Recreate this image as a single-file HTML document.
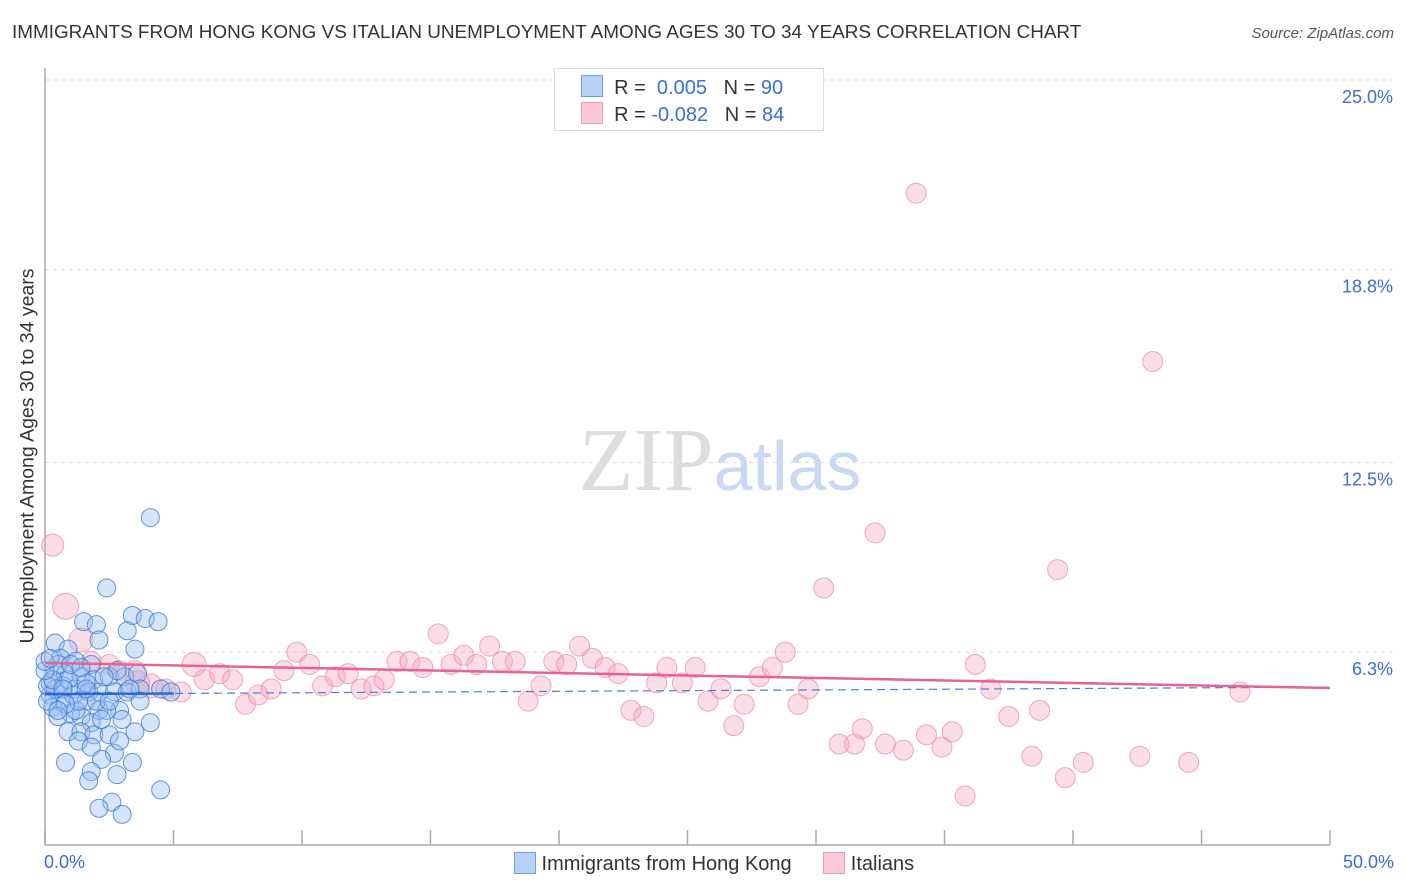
<!DOCTYPE html>
<html><head><meta charset="utf-8"><style>
body{margin:0;background:#fff;font-family:"Liberation Sans",sans-serif;}
#wrap{position:relative;width:1406px;height:892px;overflow:hidden}
.t{position:absolute;white-space:nowrap}
</style></head><body><div id="wrap">
<div class="t" style="left:12px;top:22px;font-size:18.9px;color:#333">IMMIGRANTS FROM HONG KONG VS ITALIAN UNEMPLOYMENT AMONG AGES 30 TO 34 YEARS CORRELATION CHART</div>
<div class="t" style="right:12px;top:25px;font-size:15px;color:#555;font-style:italic">Source: ZipAtlas.com</div>
<svg id="svg" width="1406" height="892" style="position:absolute;left:0;top:0"></svg>
</div>
<script>
const yTicks=[25.0,18.8,12.5,6.3];
const yTickLabels=["25.0%","18.8%","12.5%","6.3%"];
const xTicks=[0,5,10,15,20,25,30,35,40,45,50];
const blueX=[4.1,2.4,3.4,3.9,4.4,3.2,1.5,2.0,0.4,2.1,0.9,3.5,0.6,1.2,1.8,0.4,0.8,1.4,1.9,2.5,3.1,3.6,0.2,0.7,1.2,1.7,2.1,2.7,3.2,0.2,0.6,0.3,1.6,2.1,2.9,1.0,1.4,1.2,2.4,4.1,1.8,3.0,0.9,1.4,1.9,2.5,3.5,1.3,1.8,2.7,0.8,2.2,3.4,1.8,2.8,1.7,4.5,2.6,2.1,3.0,0.4,0.1,0.5,0.9,1.1,1.6,2.8,2.3,3.7,0.1,0.3,0.7,0.0,1.3,2.0,2.5,3.3,0.8,0.5,1.6,2.9,3.7,2.2,4.5,4.9,0.0,0.2,1.0,1.4,0.5];
const blueY=[10.7,8.4,7.5,7.4,7.3,7.0,7.3,7.2,6.6,6.7,6.4,6.4,6.1,6.0,5.9,5.7,5.6,5.5,5.4,5.5,5.5,5.6,5.3,5.2,5.1,5.0,5.0,5.0,5.0,4.9,4.7,4.5,4.7,4.4,4.4,4.3,4.2,4.4,4.4,4.0,4.0,4.1,3.7,3.7,3.6,3.6,3.7,3.4,3.2,3.0,2.7,2.8,2.7,2.4,2.3,2.1,1.8,1.4,1.2,1.0,5.1,5.2,5.9,5.4,4.9,5.3,5.7,5.5,5.1,4.7,5.4,5.1,5.7,4.7,4.7,4.7,5.1,4.6,4.2,5.1,3.4,4.7,4.1,5.1,5.0,6.0,6.1,5.9,5.8,4.4];
const pinkX=[0.3,0.8,1.4,1.8,2.5,2.9,3.5,4.1,4.7,5.3,5.8,6.2,6.8,7.3,7.8,8.3,8.8,9.3,9.8,10.3,10.8,11.3,11.8,12.3,12.8,13.2,13.7,14.2,14.7,15.3,15.8,16.3,16.8,17.3,17.8,18.3,18.8,19.3,19.8,20.3,20.8,21.3,21.8,22.3,22.8,23.3,23.8,24.2,24.8,25.3,25.8,26.3,26.8,27.2,27.8,28.3,28.8,29.3,29.7,30.3,30.9,31.5,31.8,32.3,32.7,33.4,33.9,34.3,34.9,35.3,35.8,36.2,36.8,37.5,38.4,38.7,39.4,39.7,40.4,42.6,43.1,44.5,46.5,3.6];
const pinkY=[9.8,7.8,6.7,6.0,5.9,5.7,5.7,5.2,5.1,5.0,5.9,5.4,5.6,5.4,4.6,4.9,5.1,5.7,6.3,5.9,5.2,5.5,5.6,5.1,5.2,5.4,6.0,6.0,5.8,6.9,5.9,6.2,5.9,6.5,6.0,6.0,4.7,5.2,6.0,5.9,6.5,6.1,5.8,5.6,4.4,4.2,5.3,5.8,5.3,5.8,4.7,5.1,3.9,4.6,5.5,5.8,6.3,4.6,5.1,8.4,3.3,3.3,3.8,10.2,3.3,3.1,21.3,3.6,3.2,3.7,1.6,5.9,5.1,4.2,2.9,4.4,9.0,2.2,2.7,2.9,15.8,2.7,5.0,5.3];
const pinkR=[11,13,12,10,10,10,10,12,10,10,12,10,10,10,10,10,10,10,10,10,10,10,10,10,10,10,10,10,10,10,10,10,10,10,10,10,10,10,10,10,10,10,10,10,10,10,10,10,10,10,10,10,10,10,10,10,10,10,10,10,10,10,10,10,10,10,10,10,10,10,10,10,10,10,10,10,10,10,10,10,10,10,10,12];
const blueTrend=[4.93,5.16];
const pinkTrend=[5.95,5.13];
const X0=45,X1=1330,Y0=845,YS=30.6;
const sx=v=>X0+(X1-X0)*v/50, sy=v=>Y0-v*YS;
const svg=document.getElementById('svg');const NS='http://www.w3.org/2000/svg';
function mk(tag,a){const e=document.createElementNS(NS,tag);for(const k in a)e.setAttribute(k,a[k]);svg.appendChild(e);return e;}
yTicks.forEach((v,i)=>{
 const g=mk('line',{x1:X0,x2:1395,y1:sy(v),y2:sy(v),stroke:'#ddd','stroke-dasharray':'4,4'});
 
 
 const t=mk('text',{x:1393,y:sy(v)+23,'text-anchor':'end','font-size':18,fill:'#3b6fd4','font-family':'Liberation Sans, sans-serif'});
 t.textContent=yTickLabels[i];
 
 
});
const ax=mk('line',{x1:X0,x2:X0,y1:68,y2:Y0,stroke:'#aaa','stroke-width':1.5});


const bx=mk('line',{x1:X0,x2:X1,y1:Y0,y2:Y0,stroke:'#aaa','stroke-width':1.5});


xTicks.forEach(v=>{const l=mk('line',{x1:sx(v),x2:sx(v),y1:830,y2:Y0,stroke:'#aaa','stroke-width':1.5});
 
 });
const wm=mk('text',{x:720,y:490,'text-anchor':'middle','font-size':90,'font-family':'Liberation Serif, serif'});
wm.innerHTML='<tspan fill="#ddd">ZIP</tspan><tspan fill="#c9d9f3" font-family="Liberation Sans, sans-serif" font-size="70">atlas</tspan>';


pinkX.forEach((v,i)=>{const c=mk('circle',{cx:sx(v),cy:sy(pinkY[i]),r:pinkR[i]||10,fill:'rgba(246,170,195,0.4)',stroke:'rgba(236,130,165,0.7)','stroke-width':1});
 
 });
blueX.forEach((v,i)=>{const c=mk('circle',{cx:sx(v),cy:sy(blueY[i]),r:9,fill:'rgba(150,190,240,0.4)',stroke:'rgba(60,120,215,0.8)','stroke-width':1});
 
 });
const bl=mk('line',{x1:sx(0),x2:sx(50),y1:sy(blueTrend[0]),y2:sy(blueTrend[1]),stroke:'#4a7fd8','stroke-width':1.2,'stroke-dasharray':'8,5'});


const bs=mk('line',{x1:sx(0),x2:sx(5),y1:sy(blueTrend[0]),y2:sy(blueTrend[0]+(blueTrend[1]-blueTrend[0])*0.1),stroke:'#2f66d0','stroke-width':2.5});


const pl=mk('line',{x1:sx(0),x2:sx(50),y1:sy(pinkTrend[0]),y2:sy(pinkTrend[1]),stroke:'#e8648e','stroke-width':2.5});


</script>
<div class="t" style="left:28px;top:456px;font-size:19.5px;color:#333;transform:translate(-50%,-50%) rotate(-90deg);transform-origin:center">Unemployment Among Ages 30 to 34 years</div>
<div class="t" style="left:44px;top:852px;font-size:18px;color:#3b6fd4">0.0%</div>
<div class="t" style="right:12px;top:852px;font-size:18px;color:#3b6fd4">50.0%</div>
<div style="position:absolute;left:554px;top:68px;width:268px;height:61px;border:1px solid #ddd;background:#fff;font-size:20px;color:#333">
 <div style="position:absolute;left:26px;top:6px;white-space:nowrap"><span style="display:inline-block;width:20px;height:20px;background:#b7d2f5;border:1px solid #6f9fe0;vertical-align:-3px"></span> &nbsp;R = &nbsp;<span style="color:#3b6fd4">0.005</span> &nbsp;&nbsp;N = <span style="color:#3b6fd4">90</span></div>
 <div style="position:absolute;left:26px;top:33px;white-space:nowrap"><span style="display:inline-block;width:20px;height:20px;background:#fcc9d8;border:1px solid #ee9ab4;vertical-align:-3px"></span> &nbsp;R = <span style="color:#3b6fd4">-0.082</span> &nbsp;&nbsp;N = <span style="color:#3b6fd4">84</span></div>
</div>
<div style="position:absolute;left:514px;top:852px;font-size:20px;color:#333;white-space:nowrap">
 <span><span style="display:inline-block;width:20px;height:20px;background:#b7d2f5;border:1px solid #6f9fe0;vertical-align:-4px"></span> Immigrants from Hong Kong</span>
 <span style="margin-left:26px"><span style="display:inline-block;width:20px;height:20px;background:#fcc9d8;border:1px solid #ee9ab4;vertical-align:-4px"></span> Italians</span>
</div>
</body></html>
